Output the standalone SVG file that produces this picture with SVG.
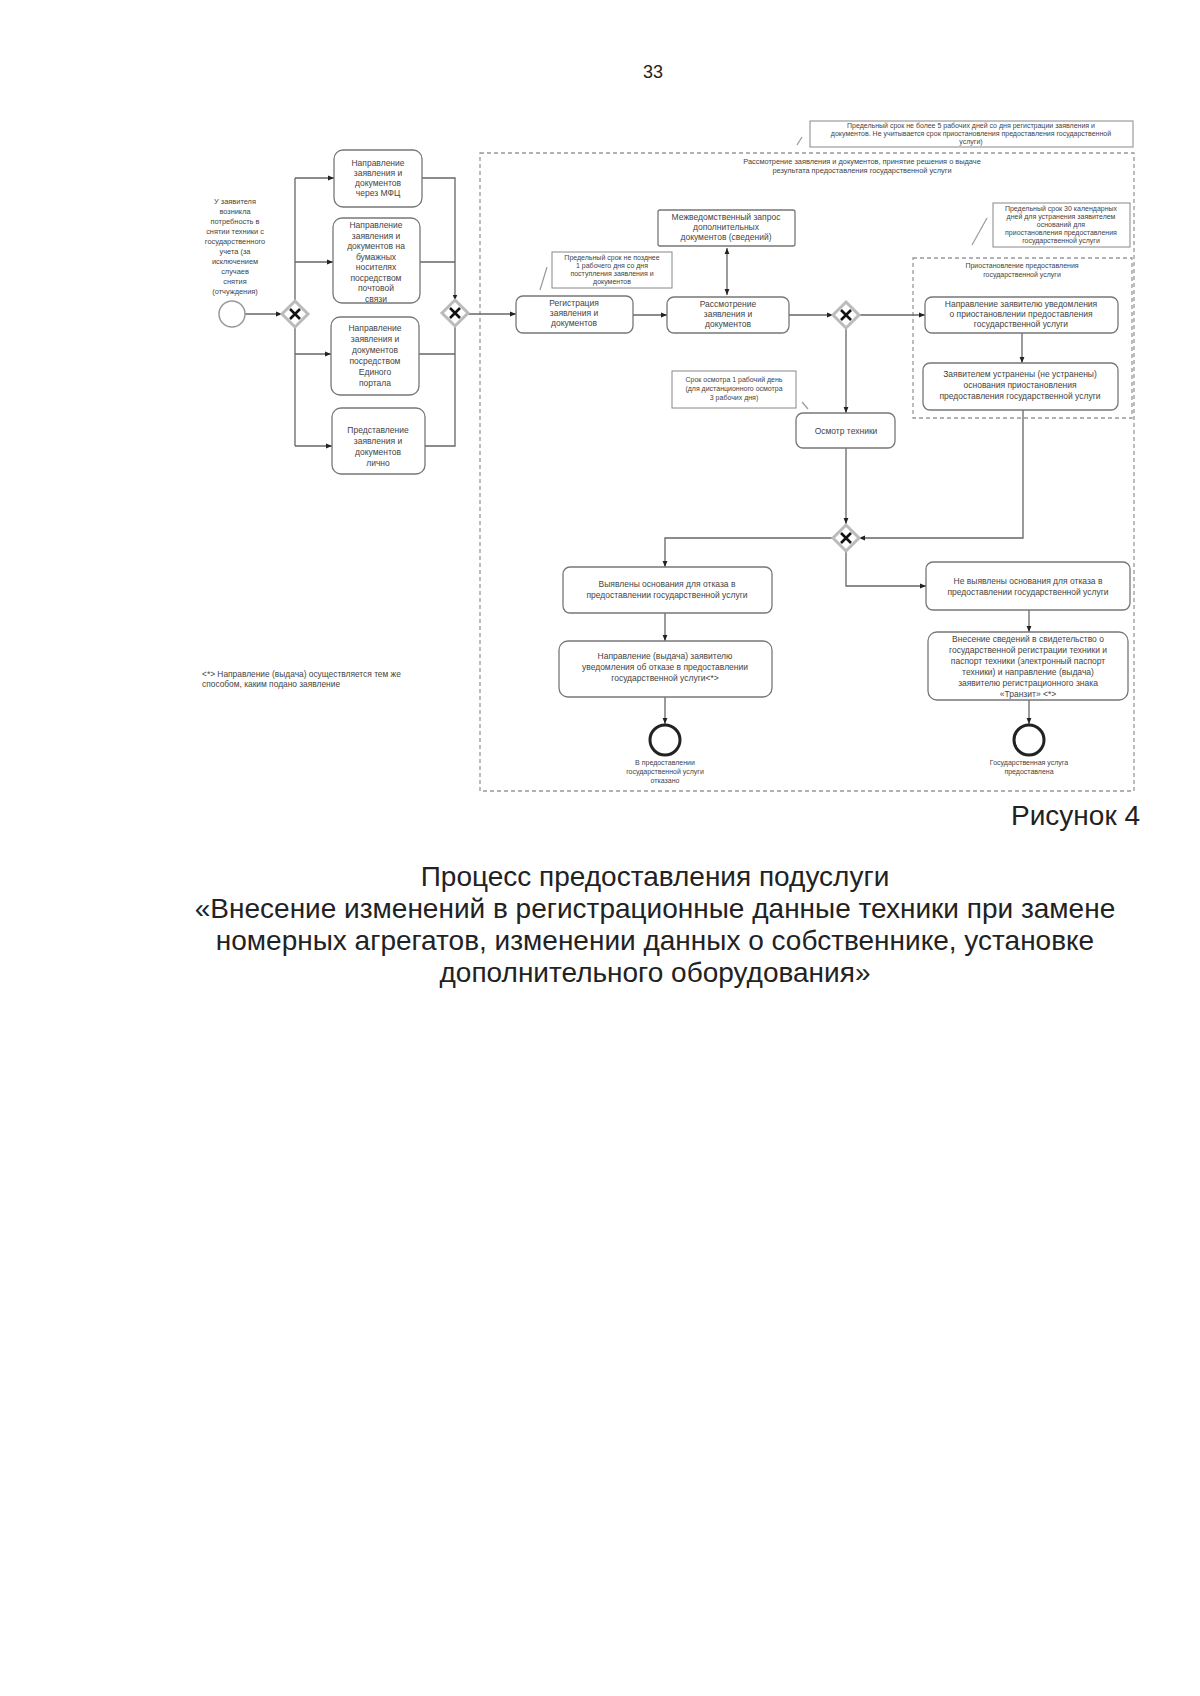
<svg xmlns="http://www.w3.org/2000/svg" width="1200" height="1696" viewBox="0 0 1200 1696">
<defs>
<marker id="arr" viewBox="0 0 10 10" refX="10" refY="5" markerWidth="6" markerHeight="6" orient="auto-start-reverse" markerUnits="userSpaceOnUse">
<path d="M0,1 L10,5 L0,9 z" fill="#222"/>
</marker>
<style>
text{font-family:"Liberation Sans",Arial,sans-serif;fill:#444}
.t{font-size:8.5px;text-anchor:middle}
.s{font-size:7px;text-anchor:middle}
.st{font-size:7.4px;text-anchor:middle}
.box{fill:#fff;stroke:#777;stroke-width:1.3}
.note{fill:#fff;stroke:#888;stroke-width:1}
.lane{fill:none;stroke:#999;stroke-width:1.3;stroke-dasharray:4 3}
.c{fill:none;stroke:#666;stroke-width:1.3}
.ca{fill:none;stroke:#666;stroke-width:1.3;marker-end:url(#arr)}
.assoc{fill:none;stroke:#999;stroke-width:1.2}
.gw{fill:#fff;stroke:#bbb;stroke-width:3}
.gx{stroke:#111;stroke-width:2.6}
.big{font-size:28px;fill:#222;text-anchor:middle}
</style>
</defs>
<rect width="1200" height="1696" fill="#fff"/>
<text x="653" y="78" style="font-size:18px;fill:#222;text-anchor:middle">33</text>

<!-- lanes -->
<g id="lane-main">
<rect class="lane" x="480" y="153" width="654" height="638"/>
<text class="st" x="862" y="164">Рассмотрение заявления и документов, принятие решения о выдаче</text>
<text class="st" x="862" y="173">результата предоставления государственной услуги</text>
</g>
<g id="lane-suspend">
<rect class="lane" x="913" y="258" width="219" height="160"/>
<text class="s" x="1022" y="268">Приостановление предоставления</text>
<text class="s" x="1022" y="277">государственной услуги</text>
</g>

<!-- connectors -->
<g id="connectors">
<path class="ca" d="M245,314 H282"/>
<path class="c" d="M295,178 V446"/>
<path class="ca" d="M295,178 H334"/>
<path class="ca" d="M295,262 H333"/>
<path class="ca" d="M295,354 H331"/>
<path class="ca" d="M295,446 H332"/>
<path class="c" d="M422,178 H455 V300"/>
<path class="c" d="M420,262 H455"/>
<path class="c" d="M419,354 H455"/>
<path class="c" d="M425,446 H455 V326"/>
<path class="ca" d="M455,300 V300.5"/>
<path class="ca" d="M468,314 H516"/>
<path class="ca" d="M633,315 H667"/>
<path class="c" d="M727,248 V295" style="marker-start:url(#arr);marker-end:url(#arr)"/>
<path class="ca" d="M789,315 H833"/>
<path class="ca" d="M859,315 H925"/>
<path class="ca" d="M1022,333 V363"/>
<path class="ca" d="M846,328 V413"/>
<path class="ca" d="M846,448 V524"/>
<path class="ca" d="M1023,410 V538 H859"/>
<path class="ca" d="M833,538 H665 V567"/>
<path class="ca" d="M846,551 V586 H926"/>
<path class="ca" d="M665,613 V641"/>
<path class="ca" d="M1029,610 V632"/>
<path class="ca" d="M665,697 V724"/>
<path class="ca" d="M1029,700 V724"/>
<path class="assoc" d="M797,145 L802,137"/>
<path class="assoc" d="M540,290 L547,267"/>
<path class="assoc" d="M972,245 L987,218"/>
<path class="assoc" d="M802,402 L808,409"/>
</g>

<!-- start -->
<g id="start">
<circle cx="232" cy="314" r="13" fill="#fff" stroke="#999" stroke-width="1.5"/>
<text class="st" x="235" y="204">У заявителя</text>
<text class="st" x="235" y="214">возникла</text>
<text class="st" x="235" y="224">потребность в</text>
<text class="st" x="235" y="234">снятии техники с</text>
<text class="st" x="235" y="244">государственного</text>
<text class="st" x="235" y="254">учета (за</text>
<text class="st" x="235" y="264">исключением</text>
<text class="st" x="235" y="274">случаев</text>
<text class="st" x="235" y="284">снятия</text>
<text class="st" x="235" y="294">(отчуждения)</text>
</g>

<g id="gw-split"><path class="gw" d="M295,301 L308,314 L295,327 L282,314 z"/><path class="gx" d="M290,309 L300,319 M300,309 L290,319"/></g>
<g id="gw-merge"><path class="gw" d="M455,300 L468,313 L455,326 L442,313 z"/><path class="gx" d="M450,308 L460,318 M460,308 L450,318"/></g>
<g id="gw-check"><path class="gw" d="M846,302 L859,315 L846,328 L833,315 z"/><path class="gx" d="M841,310 L851,320 M851,310 L841,320"/></g>
<g id="gw-result"><path class="gw" d="M846,525 L859,538 L846,551 L833,538 z"/><path class="gx" d="M841,533 L851,543 M851,533 L841,543"/></g>

<g id="mfc">
<rect class="box" x="334" y="150" width="88" height="57" rx="9"/>
<text class="t" x="378" y="166">Направление</text>
<text class="t" x="378" y="176">заявления и</text>
<text class="t" x="378" y="186">документов</text>
<text class="t" x="378" y="196">через МФЦ</text>
</g>
<g id="mail">
<rect class="box" x="333" y="218" width="87" height="85" rx="9"/>
<text class="t" x="376" y="228">Направление</text>
<text class="t" x="376" y="238.5">заявления и</text>
<text class="t" x="376" y="249">документов на</text>
<text class="t" x="376" y="259.5">бумажных</text>
<text class="t" x="376" y="270">носителях</text>
<text class="t" x="376" y="280.5">посредством</text>
<text class="t" x="376" y="291">почтовой</text>
<text class="t" x="376" y="301.5">связи</text>
</g>
<g id="portal">
<rect class="box" x="331" y="317" width="88" height="78" rx="9"/>
<text class="t" x="375" y="331">Направление</text>
<text class="t" x="375" y="342">заявления и</text>
<text class="t" x="375" y="353">документов</text>
<text class="t" x="375" y="364">посредством</text>
<text class="t" x="375" y="375">Единого</text>
<text class="t" x="375" y="386">портала</text>
</g>
<g id="personal">
<rect class="box" x="332" y="408" width="93" height="66" rx="9"/>
<text class="t" x="378" y="433">Представление</text>
<text class="t" x="378" y="444">заявления и</text>
<text class="t" x="378" y="455">документов</text>
<text class="t" x="378" y="466">лично</text>
</g>

<g id="note-deadline">
<rect class="note" x="810" y="121" width="323" height="26"/>
<text class="s" x="971" y="128">Предельный срок не более 5 рабочих дней со дня регистрации заявления и</text>
<text class="s" x="971" y="136">документов. Не учитывается срок приостановления предоставления государственной</text>
<text class="s" x="971" y="144">услуги)</text>
</g>

<g id="registration">
<rect class="box" x="516" y="296" width="117" height="37" rx="7"/>
<text class="t" x="574" y="306">Регистрация</text>
<text class="t" x="574" y="316">заявления и</text>
<text class="t" x="574" y="326">документов</text>
</g>
<g id="note-reg">
<rect class="note" x="552" y="252" width="120" height="36"/>
<text class="s" x="612" y="260">Предельный срок не позднее</text>
<text class="s" x="612" y="268">1 рабочего дня со дня</text>
<text class="s" x="612" y="276">поступления заявления и</text>
<text class="s" x="612" y="284">документов</text>
</g>
<g id="review">
<rect class="box" x="667" y="297" width="122" height="36" rx="7"/>
<text class="t" x="728" y="307">Рассмотрение</text>
<text class="t" x="728" y="317">заявления и</text>
<text class="t" x="728" y="327">документов</text>
</g>
<g id="request">
<rect class="box" x="658" y="210" width="137" height="36" rx="2"/>
<text class="t" x="726" y="220">Межведомственный запрос</text>
<text class="t" x="726" y="230">дополнительных</text>
<text class="t" x="726" y="240">документов (сведений)</text>
</g>

<g id="note-suspend">
<rect class="note" x="993" y="203" width="137" height="44"/>
<text class="s" x="1061" y="211">Предельный срок 30 календарных</text>
<text class="s" x="1061" y="219">дней для устранения заявителем</text>
<text class="s" x="1061" y="227">оснований для</text>
<text class="s" x="1061" y="235">приостановления предоставления</text>
<text class="s" x="1061" y="243">государственной услуги</text>
</g>
<g id="notify-suspend">
<rect class="box" x="925" y="297" width="193" height="36" rx="7"/>
<text class="t" x="1021" y="307">Направление заявителю уведомления</text>
<text class="t" x="1021" y="317">о приостановлении предоставления</text>
<text class="t" x="1021" y="327">государственной услуги</text>
</g>
<g id="eliminated">
<rect class="box" x="923" y="363" width="195" height="47" rx="7"/>
<text class="t" x="1020" y="377">Заявителем устранены (не устранены)</text>
<text class="t" x="1020" y="388">основания приостановления</text>
<text class="t" x="1020" y="399">предоставления государственной услуги</text>
</g>

<g id="note-inspect">
<rect class="note" x="672" y="371" width="124" height="37"/>
<text class="s" x="734" y="382">Срок осмотра 1 рабочий день</text>
<text class="s" x="734" y="391">(для дистанционного осмотра</text>
<text class="s" x="734" y="400">3 рабочих дня)</text>
</g>
<g id="inspect">
<rect class="box" x="796" y="413" width="99" height="35" rx="7"/>
<text class="t" x="846" y="434">Осмотр техники</text>
</g>

<g id="refuse-found">
<rect class="box" x="563" y="567" width="209" height="46" rx="7"/>
<text class="t" x="667" y="587">Выявлены основания для отказа в</text>
<text class="t" x="667" y="598">предоставлении государственной услуги</text>
</g>
<g id="refuse-send">
<rect class="box" x="559" y="641" width="213" height="56" rx="9"/>
<text class="t" x="665" y="659">Направление (выдача) заявителю</text>
<text class="t" x="665" y="670">уведомления об отказе в предоставлении</text>
<text class="t" x="665" y="681">государственной услуги&lt;*&gt;</text>
</g>
<g id="end-refused">
<circle cx="665" cy="740" r="15" fill="#fff" stroke="#222" stroke-width="3"/>
<text class="s" x="665" y="765">В предоставлении</text>
<text class="s" x="665" y="774">государственной услуги</text>
<text class="s" x="665" y="783">отказано</text>
</g>

<g id="ok-found">
<rect class="box" x="926" y="562" width="204" height="48" rx="7"/>
<text class="t" x="1028" y="584">Не выявлены основания для отказа в</text>
<text class="t" x="1028" y="595">предоставлении государственной услуги</text>
</g>
<g id="register">
<rect class="box" x="928" y="632" width="200" height="68" rx="9"/>
<text class="t" x="1028" y="642">Внесение сведений в свидетельство о</text>
<text class="t" x="1028" y="653">государственной регистрации техники и</text>
<text class="t" x="1028" y="664">паспорт техники (электронный паспорт</text>
<text class="t" x="1028" y="675">техники) и направление (выдача)</text>
<text class="t" x="1028" y="686">заявителю регистрационного знака</text>
<text class="t" x="1028" y="697">«Транзит» &lt;*&gt;</text>
</g>
<g id="end-done">
<circle cx="1029" cy="740" r="15" fill="#fff" stroke="#222" stroke-width="3"/>
<text class="s" x="1029" y="765">Государственная услуга</text>
<text class="s" x="1029" y="774">предоставлена</text>
</g>

<g id="footnote">
<text x="202" y="677" style="font-size:8.4px">&lt;*&gt; Направление (выдача) осуществляется тем же</text>
<text x="202" y="687" style="font-size:8.4px">способом, каким подано заявление</text>
</g>

<text x="1140" y="825" style="font-size:28px;fill:#222;text-anchor:end">Рисунок 4</text>
<text class="big" x="655" y="886">Процесс предоставления подуслуги</text>
<text class="big" x="655" y="918">«Внесение изменений в регистрационные данные техники при замене</text>
<text class="big" x="655" y="950">номерных агрегатов, изменении данных о собственнике, установке</text>
<text class="big" x="655" y="982">дополнительного оборудования»</text>
</svg>
